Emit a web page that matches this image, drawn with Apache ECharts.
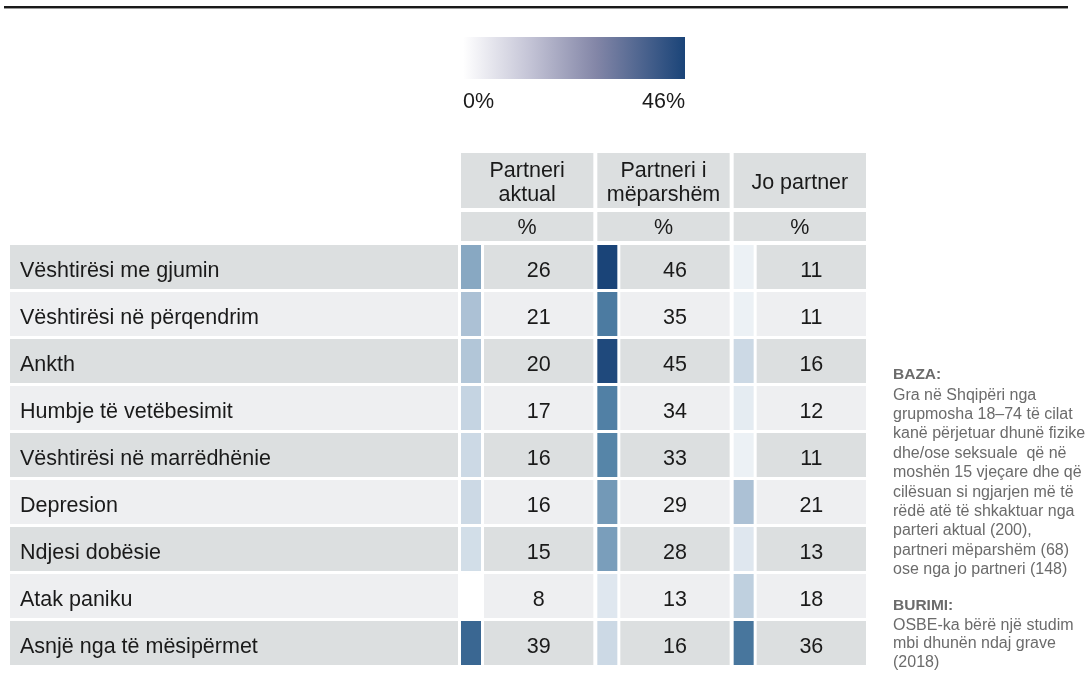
<!DOCTYPE html>
<html>
<head>
<meta charset="utf-8">
<script src="https://cdn.jsdelivr.net/npm/echarts@6/dist/echarts.min.js"></script>
<style>
  html, body { margin: 0; padding: 0; background: #fff; }
  #chart { width: 1089px; height: 693px; }
</style>
</head>
<body>
<div id="chart"></div>
<script>
// data
var rows = [
  'Vështirësi me gjumin',
  'Vështirësi në përqendrim',
  'Ankth',
  'Humbje të vetëbesimit',
  'Vështirësi në marrëdhënie',
  'Depresion',
  'Ndjesi dobësie',
  'Atak paniku',
  'Asnjë nga të mësipërmet'
];
var columns = ['Partneri\naktual', 'Partneri i\nmëparshëm', 'Jo partner'];
var unitRow = ['%', '%', '%'];
var partneriAktual = [26, 21, 20, 17, 16, 16, 15, 8, 39];
var partneriMeparshem = [46, 35, 45, 34, 33, 29, 28, 13, 16];
var joPartner = [11, 11, 16, 12, 11, 21, 13, 18, 36];
var legendLabels = ['0%', '46%'];
var bazaTitle = 'BAZA:';
var bazaText = [
  'Gra në Shqipëri nga',
  'grupmosha 18–74 të cilat',
  'kanë përjetuar dhunë fizike',
  'dhe/ose seksuale  që në',
  'moshën 15 vjeçare dhe që',
  'cilësuan si ngjarjen më të',
  'rëdë atë të shkaktuar nga',
  'parteri aktual (200),',
  'partneri mëparshëm (68)',
  'ose nga jo partneri (148)'
];
var burimiTitle = 'BURIMI:';
var burimiText = ['OSBE-ka bërë një studim', 'mbi dhunën ndaj grave', '(2018)'];

// layout
var FONT = '"Liberation Sans", Arial, Helvetica, sans-serif';
var TFONT = '21.5px ' + FONT;
var TXT = '#1a1a1a';
var DARK_BG = '#dcdfe0';
var LIGHT_BG = '#eeeff1';
var GRID_LEFT = 461, GRID_RIGHT = 870, GRID_TOP = 245, ROW_H = 47;
var COL_W = (GRID_RIGHT - GRID_LEFT) / 3;
var TEXT_DY = 4;

var myChart = echarts.init(document.getElementById('chart'), null, { renderer: 'canvas' });

var cellData = [];
[partneriAktual, partneriMeparshem, joPartner].forEach(function (arr, c) {
  arr.forEach(function (v, r) { cellData.push([c, r, v]); });
});
var labelData = rows.map(function (name, r) { return [0, r, name]; });

// rule, legend, header and notes as graphics
var graphics = [
  { type: 'rect', shape: { x: 4, y: 6, width: 1064, height: 2 }, style: { fill: '#1a1a1a' } },
  { type: 'rect', shape: { x: 4, y: 8, width: 1064, height: 1 }, style: { fill: '#9a9a9a' } },
  {
    type: 'rect', shape: { x: 463, y: 37, width: 222, height: 42 },
    style: {
      fill: new echarts.graphic.LinearGradient(0, 0, 1, 0, [
        { offset: 0, color: '#ffffff' },
        { offset: 0.3, color: '#c4c4d6' },
        { offset: 0.6, color: '#8386a7' },
        { offset: 1, color: '#1a4478' }
      ])
    }
  },
  { type: 'text', x: 463, y: 102, style: { text: legendLabels[0], font: TFONT, fill: TXT, align: 'left', verticalAlign: 'middle' } },
  { type: 'text', x: 685, y: 102, style: { text: legendLabels[1], font: TFONT, fill: TXT, align: 'right', verticalAlign: 'middle' } }
];
columns.forEach(function (name, c) {
  var x0 = GRID_LEFT + c * COL_W;
  graphics.push({ type: 'rect', shape: { x: x0, y: 153, width: COL_W - 4, height: 55 }, style: { fill: DARK_BG } });
  graphics.push({ type: 'text', x: x0 + (COL_W - 4) / 2, y: 183, style: { text: name, font: TFONT, fill: TXT, align: 'center', verticalAlign: 'middle', lineHeight: 24 } });
  graphics.push({ type: 'rect', shape: { x: x0, y: 212, width: COL_W - 4, height: 29 }, style: { fill: DARK_BG } });
  graphics.push({ type: 'text', x: x0 + (COL_W - 4) / 2, y: 228, style: { text: unitRow[c], font: TFONT, fill: TXT, align: 'center', verticalAlign: 'middle' } });
});
var NOTE_COLOR = '#6b6b6b';
graphics.push({ type: 'text', x: 893, y: 375, style: { text: bazaTitle, font: 'bold 15.5px ' + FONT, fill: NOTE_COLOR, verticalAlign: 'middle' } });
graphics.push({ type: 'text', x: 893, y: 385.5, style: { text: bazaText.join('\n'), font: '16px ' + FONT, fill: NOTE_COLOR, verticalAlign: 'top', lineHeight: 19.4 } });
graphics.push({ type: 'text', x: 893, y: 606, style: { text: burimiTitle, font: 'bold 15.5px ' + FONT, fill: NOTE_COLOR, verticalAlign: 'middle' } });
graphics.push({ type: 'text', x: 893, y: 616, style: { text: burimiText.join('\n'), font: '16px ' + FONT, fill: NOTE_COLOR, verticalAlign: 'top', lineHeight: 18.6 } });

var option = {
  backgroundColor: '#ffffff',
  animation: false,
  grid: { left: GRID_LEFT, right: 1089 - GRID_RIGHT, top: GRID_TOP, height: ROW_H * rows.length },
  xAxis: { type: 'category', data: [0, 1, 2], show: false },
  yAxis: { type: 'category', data: rows, inverse: true, show: false },
  visualMap: {
    type: 'continuous', show: false, min: 8, max: 46, dimension: 2, seriesIndex: 1,
    inRange: { color: ['#ffffff', '#aec3d6', '#5483a7', '#1a4478'] }
  },
  graphic: graphics,
  series: [{
    name: 'labels',
    type: 'custom',
    encode: { x: 0, y: 1 },
    data: labelData,
    renderItem: function (params, api) {
      var r = api.value(1);
      var p = api.coord([0, r]);
      var h = api.size([0, 1])[1];
      var y0 = p[1] - h / 2;
      return {
        type: 'group',
        children: [
          { type: 'rect', shape: { x: 10, y: y0, width: GRID_LEFT - 13, height: h - 3 }, style: { fill: r % 2 === 0 ? DARK_BG : LIGHT_BG } },
          { type: 'text', x: 20, y: y0 + (h - 3) / 2 + TEXT_DY, style: { text: rows[r], font: TFONT, fill: TXT, verticalAlign: 'middle' } }
        ]
      };
    }
  }, {
    name: 'cells',
    type: 'custom',
    encode: { x: 0, y: 1 },
    data: cellData,
    renderItem: function (params, api) {
      var c = api.value(0), r = api.value(1), v = api.value(2);
      var p = api.coord([c, r]);
      var sz = api.size([1, 1]);
      var x0 = p[0] - sz[0] / 2, y0 = p[1] - sz[1] / 2;
      var ch = sz[1] - 3;
      return {
        type: 'group',
        children: [
          { type: 'rect', shape: { x: x0, y: y0, width: 20, height: ch }, style: { fill: api.visual('color') } },
          { type: 'rect', shape: { x: x0 + 23, y: y0, width: sz[0] - 27, height: ch }, style: { fill: r % 2 === 0 ? DARK_BG : LIGHT_BG } },
          { type: 'text', x: x0 + 23 + (sz[0] - 27) / 2, y: y0 + ch / 2 + TEXT_DY, style: { text: String(v), font: TFONT, fill: TXT, align: 'center', verticalAlign: 'middle' } }
        ]
      };
    }
  }]
};
myChart.setOption(option);
</script>
</body>
</html>
